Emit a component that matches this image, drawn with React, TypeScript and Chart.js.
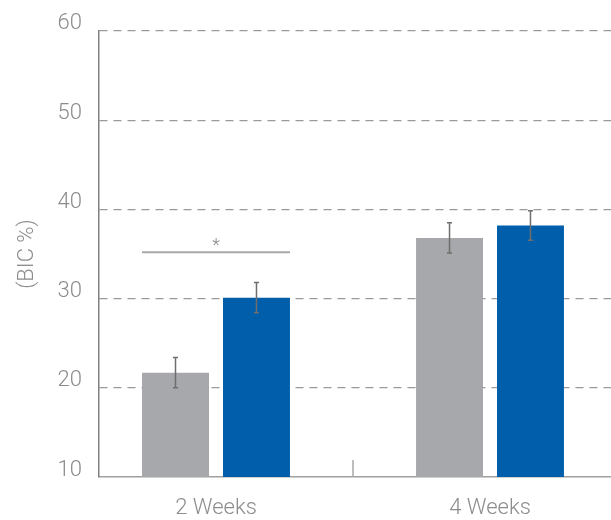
import React, { useEffect, useRef } from 'react';
import { Chart, registerables } from 'chart.js';

Chart.register(...registerables);

const categories = ['2 Weeks', '4 Weeks'];
const categoryPositions = [1, 2];
const dividerPosition = 1.5;
const controlValues = [21.7, 36.8];
const controlErrors = [1.7, 1.7];
const testValues = [30.1, 38.2];
const testErrors = [1.7, 1.65];
const yMin = 10;
const yMax = 60;
const yStep = 10;
const xMin = 0.573;
const xMax = 2.4416;
const yTitle = '(BIC %)';
const significanceLevel = 35.2;
const significanceLabel = '*';

const FONT = 'Roboto';
const TEXT_COLOR = '#8c8c8c';

const overlayPlugin = {
  id: 'overlay',
  afterDatasetsDraw(chart: any) {
    const ctx = chart.ctx;
    const y = chart.scales.y;
    const x = chart.scales.x;
    const errs = [controlErrors, testErrors];
    ctx.save();
    // error bars
    chart.data.datasets.forEach((ds: any, di: number) => {
      const meta = chart.getDatasetMeta(di);
      meta.data.forEach((el: any, i: number) => {
        const v = ds.data[i].y;
        const e = errs[di][i];
        const top = y.getPixelForValue(v + e);
        const bot = y.getPixelForValue(v - e);
        ctx.strokeStyle = '#6e6e6e';
        ctx.lineWidth = 1.5;
        ctx.beginPath();
        ctx.moveTo(el.x, top);
        ctx.lineTo(el.x, bot);
        ctx.moveTo(el.x - 2.5, top);
        ctx.lineTo(el.x + 2.5, top);
        ctx.moveTo(el.x - 2.5, bot);
        ctx.lineTo(el.x + 2.5, bot);
        ctx.stroke();
      });
    });
    // significance bracket
    const a = chart.getDatasetMeta(0).data[0];
    const b = chart.getDatasetMeta(1).data[0];
    const left = a.x - a.width / 2;
    const right = b.x + b.width / 2;
    const sy = y.getPixelForValue(significanceLevel);
    ctx.strokeStyle = '#a8a8a8';
    ctx.lineWidth = 2;
    ctx.beginPath();
    ctx.moveTo(left, sy);
    ctx.lineTo(right, sy);
    ctx.stroke();
    ctx.fillStyle = '#8c8c8c';
    ctx.font = `300 18px ${FONT}`;
    ctx.textAlign = 'center';
    ctx.textBaseline = 'alphabetic';
    ctx.fillText(significanceLabel, (left + right) / 2, sy - 1);
    // divider tick
    const dx = x.getPixelForValue(dividerPosition);
    const bottom = chart.chartArea.bottom;
    ctx.strokeStyle = '#a8a8a8';
    ctx.lineWidth = 1.5;
    ctx.beginPath();
    ctx.moveTo(dx, bottom - 17);
    ctx.lineTo(dx, bottom);
    ctx.stroke();
    ctx.restore();
  },
};

export default function App() {
  const ref = useRef<HTMLCanvasElement>(null);
  useEffect(() => {
    if (!ref.current) return;
    const chart = new Chart(ref.current, {
      type: 'bar',
      data: {
        datasets: [
          {
            label: 'Control',
            data: categoryPositions.map((p, i) => ({ x: p, y: controlValues[i] })),
            backgroundColor: '#a7a8ab',
            categoryPercentage: 0.591,
            barPercentage: 0.827,
          },
          {
            label: 'Test',
            data: categoryPositions.map((p, i) => ({ x: p, y: testValues[i] })),
            backgroundColor: '#005eab',
            categoryPercentage: 0.591,
            barPercentage: 0.827,
          },
        ],
      },
      options: {
        animation: false,
        responsive: true,
        maintainAspectRatio: false,
        layout: { padding: { top: 30, left: 0, right: 0, bottom: 0 } },
        plugins: { legend: { display: false }, tooltip: { enabled: false } },
        scales: {
          x: {
            type: 'linear',
            offset: false,
            min: xMin,
            max: xMax,
            afterBuildTicks: (s: any) => {
              s.ticks = categoryPositions.map((v) => ({ value: v }));
            },
            afterFit: (s: any) => {
              s.height = 43;
            },
            ticks: {
              autoSkip: false,
              maxRotation: 0,
              padding: 18,
              color: TEXT_COLOR,
              font: { family: FONT, size: 22, weight: '300' },
              callback: (v: any) => {
                const idx = categoryPositions.indexOf(Number(v));
                return idx >= 0 ? categories[idx] : '';
              },
            },
            grid: { display: false, drawTicks: false },
            border: { display: true, color: '#a0a0a0', width: 1.5 },
          },
          y: {
            min: yMin,
            max: yMax,
            afterFit: (s: any) => {
              s.width = 99;
            },
            ticks: {
              stepSize: yStep,
              padding: 17,
              color: TEXT_COLOR,
              font: { family: FONT, size: 22, weight: '300', lineHeight: 0.636 },
              callback: (v: any) => [String(v), ''],
            },
            grid: {
              drawTicks: false,
              color: (c: any) => (c.tick && c.tick.value === yMin ? 'rgba(0,0,0,0)' : '#9a9a9a'),
              lineWidth: 1.2,
            },
            border: { display: true, color: '#808080', width: 1.5, dash: [8, 6] },
            title: {
              display: true,
              text: yTitle,
              color: TEXT_COLOR,
              font: { family: FONT, size: 22, weight: '300' },
              padding: { top: 14, bottom: 0 },
            },
          },
        },
      },
      plugins: [overlayPlugin],
    });
    return () => chart.destroy();
  }, []);
  return (
    <div style={{ position: 'absolute', left: 0, top: 0, width: 611, height: 520 }}>
      <canvas ref={ref} />
    </div>
  );
}
